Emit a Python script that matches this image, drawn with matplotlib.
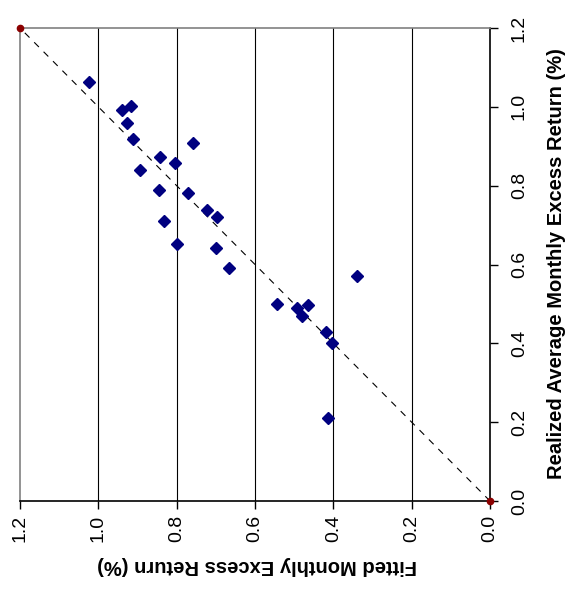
import matplotlib
matplotlib.use("Agg")
import matplotlib.pyplot as plt

# 拟合值 vs 实际值 (%)
fitted = [1.024, 0.940, 0.916, 0.926, 0.912, 0.758, 0.842, 0.805, 0.893,
          0.846, 0.772, 0.722, 0.698, 0.833, 0.800, 0.699, 0.666, 0.340,
          0.545, 0.494, 0.464, 0.480, 0.418, 0.403, 0.414]
realized = [1.062, 0.992, 1.002, 0.960, 0.919, 0.909, 0.873, 0.858, 0.840,
            0.789, 0.781, 0.739, 0.720, 0.711, 0.651, 0.643, 0.592, 0.572,
            0.499, 0.489, 0.498, 0.470, 0.428, 0.400, 0.211]
line_pts = [0.0, 1.2]
ticks = [0.0, 0.2, 0.4, 0.6, 0.8, 1.0, 1.2]
tick_labels = ["0.0", "0.2", "0.4", "0.6", "0.8", "1.0", "1.2"]

plt.rcParams['font.family'] = ['Liberation Sans', 'DejaVu Sans']

fig = plt.figure(figsize=(5.68, 5.96), dpi=100)
ax = fig.add_axes([20 / 568, 95 / 596, 470 / 568, 473 / 596])

# 45度参考线
ax.plot(line_pts, line_pts, color='black', lw=0.8, dashes=(6, 6), zorder=2)
ax.plot(line_pts, line_pts, 'o', color='#8b0000', ms=4.5, clip_on=False, zorder=4)

ax.plot(fitted, realized, 'D', color='#000080', ms=6.5, zorder=3, linestyle='none')

ax.set_xlim(1.2, 0.0)
ax.set_ylim(0.0, 1.2)

# 竖直网格线
for t in ticks[1:-1]:
    ax.axvline(t, color='black', lw=0.8, zorder=1)

ax.set_xticks(ticks)
ax.set_xticklabels(tick_labels, rotation=90, fontsize=14, va='top', ha='center')
ax.yaxis.tick_right()
ax.set_yticks(ticks)
ax.set_yticklabels(tick_labels, rotation=90, fontsize=14, va='center', ha='left')
ax.tick_params(direction='out', length=6, width=1)
ax.tick_params(axis='x', pad=4)
ax.tick_params(axis='y', pad=9)

for side in ['right', 'bottom']:
    ax.spines[side].set_color('black')
    ax.spines[side].set_linewidth(1.2)
for side in ['top', 'left']:
    ax.spines[side].set_color('#808080')
    ax.spines[side].set_linewidth(1.2)

fig.text(257 / 568, 1 - 565 / 596, 'Fitted Monthly Excess Return (%)',
         rotation=180, ha='center', va='center', fontsize=14.5, fontweight='bold')
fig.text(557 / 568, 1 - 264 / 596, 'Realized Average Monthly Excess Return (%)',
         rotation=90, ha='center', va='center', fontsize=14.5, fontweight='bold')

fig.savefig('out.png', dpi=100)
